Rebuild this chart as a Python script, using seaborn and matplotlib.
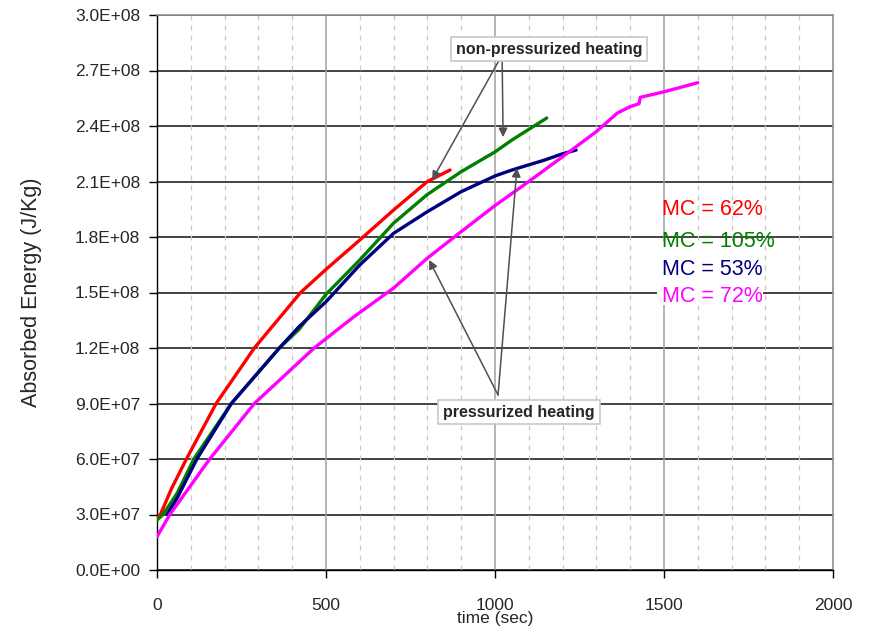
import matplotlib
matplotlib.use("Agg")
import matplotlib.pyplot as plt
import seaborn as sns
import pandas as pd
from matplotlib.ticker import FuncFormatter, MultipleLocator
from matplotlib.patches import Rectangle

# ---- data ----
red_t = [0, 10, 43, 87, 175, 288, 425, 500, 600, 700, 800, 867]
red_e = [2.8e7, 3.0e7, 4.4e7, 6.0e7, 9.0e7, 1.2e8, 1.5e8, 1.625e8, 1.784e8, 1.946e8, 2.10e8, 2.162e8]

green_t = [0, 18, 60, 109, 220, 362, 420, 500, 600, 700, 800, 900, 1000, 1050, 1153]
green_e = [2.7e7, 3.0e7, 4.16e7, 6.0e7, 9.0e7, 1.2e8, 1.30e8, 1.49e8, 1.676e8, 1.875e8, 2.03e8,
           2.153e8, 2.26e8, 2.324e8, 2.443e8]

blue_t = [30, 60, 118, 220, 362, 420, 500, 600, 700, 800, 900, 1000, 1050, 1100, 1147, 1200, 1240]
blue_e = [3.0e7, 3.9e7, 6.0e7, 9.0e7, 1.2e8, 1.315e8, 1.45e8, 1.649e8, 1.82e8, 1.937e8, 2.045e8,
          2.13e8, 2.162e8, 2.19e8, 2.216e8, 2.25e8, 2.27e8]

magenta_t = [0, 38, 156, 288, 465, 582, 700, 800, 900, 1000, 1100, 1200, 1300, 1362, 1400, 1426,
             1430, 1500, 1600]
magenta_e = [1.8e7, 3.0e7, 6.0e7, 9.0e7, 1.2e8, 1.368e8, 1.524e8, 1.686e8, 1.829e8, 1.97e8, 2.1e8,
             2.234e8, 2.37e8, 2.47e8, 2.505e8, 2.52e8, 2.555e8, 2.585e8, 2.634e8]

series_labels = ["MC = 62%", "MC = 105%", "MC = 53%", "MC = 72%"]
series_colors = ["#FF0000", "#008000", "#000080", "#FF00FF"]

x_ticks = [0, 500, 1000, 1500, 2000]
y_ticks = [0, 3e7, 6e7, 9e7, 1.2e8, 1.5e8, 1.8e8, 2.1e8, 2.4e8, 2.7e8, 3.0e8]

x_label = "time (sec)"
y_label = "Absorbed Energy (J/Kg)"
note_top = "non-pressurized heating"
note_bottom = "pressurized heating"

# ---- build long table ----
frames = []
for lab, t, e in zip(series_labels, [red_t, green_t, blue_t, magenta_t],
                     [red_e, green_e, blue_e, magenta_e]):
    frames.append(pd.DataFrame({"t": t, "E": e, "series": lab}))
df = pd.concat(frames, ignore_index=True)

sns.set_style("white")
plt.rcParams["font.family"] = ["Liberation Sans", "DejaVu Sans"]

fig = plt.figure(figsize=(8.73, 6.28), dpi=100)
ax = fig.add_axes([157 / 873, 1 - 570 / 628, (833 - 157) / 873, (570 - 15) / 628])

sns.lineplot(data=df, x="t", y="E", hue="series", hue_order=series_labels,
             palette=dict(zip(series_labels, series_colors)), estimator=None,
             sort=False, legend=False, linewidth=2.4, ax=ax, zorder=3)

ax.set_xlim(0, 2000)
ax.set_ylim(0, 3.0e8)
ax.set_xticks(x_ticks)
ax.set_yticks(y_ticks)
ax.xaxis.set_minor_locator(MultipleLocator(100))
ax.yaxis.set_major_formatter(FuncFormatter(lambda v, p: f"{v:.1E}"))
ax.xaxis.set_major_formatter(FuncFormatter(lambda v, p: f"{v:.0f}"))

# grid
ax.grid(False)
for yv in y_ticks:
    ax.axhline(yv, color="#222222", lw=1.2, zorder=1)
for xv in x_ticks[1:-1]:
    ax.axvline(xv, color="#a0a0a0", lw=1.1, zorder=1)
for xv in range(100, 2000, 100):
    if xv % 500:
        ax.axvline(xv, color="#c8c8c8", lw=0.9, ls=(0, (4, 4)), zorder=1)

for side in ["top", "right"]:
    ax.spines[side].set_color("#909090")
    ax.spines[side].set_linewidth(1.2)
for side in ["left", "bottom"]:
    ax.spines[side].set_color("#000000")
    ax.spines[side].set_linewidth(1.0)

ax.tick_params(axis="both", which="major", direction="out", length=6, width=1,
               color="#000000", labelsize=12.5, pad=6, bottom=True, left=True)
ax.tick_params(axis="x", which="minor", length=0)
ax.tick_params(axis="x", which="major", pad=14)

ax.set_xlabel(x_label, fontsize=12.5, labelpad=-1)
ax.set_ylabel(y_label, fontsize=15.5, labelpad=24)

# white panel behind the lower colour labels
ax.add_patch(Rectangle((1480, 1.43e8), 312, 0.345e8, fc="white", ec="none", zorder=2))

# legend-like coloured labels
leg_y = [1.946e8, 1.778e8, 1.627e8, 1.476e8]
for lab, col, yv in zip(series_labels, series_colors, leg_y):
    ax.text(1494, yv, lab, color=col, fontsize=15.5, ha="left", va="center", zorder=5)

# annotations
arrow_kw = dict(arrowstyle="-|>", color="#505050", lw=1.1, mutation_scale=13,
                shrinkA=0, shrinkB=0)
for tgt in [(814, 2.108e8), (1024, 2.34e8)]:
    ax.annotate("", xy=tgt, xytext=(1021, 2.784e8), arrowprops=arrow_kw, zorder=4)
for tgt in [(1065, 2.173e8), (805, 1.676e8)]:
    ax.annotate("", xy=tgt, xytext=(1009, 9.46e7), arrowprops=arrow_kw, zorder=4)

box = dict(boxstyle="square,pad=0.3", fc="white", ec="#c8c8c8", lw=1.2)
ax.text(1160, 2.816e8, note_top, fontsize=11.5, fontweight="bold", ha="center",
        va="center", bbox=box, zorder=6)
ax.text(1071, 8.54e7, note_bottom, fontsize=11.5, fontweight="bold", ha="center",
        va="center", bbox=box, zorder=6)

fig.savefig("out.png", dpi=100)
